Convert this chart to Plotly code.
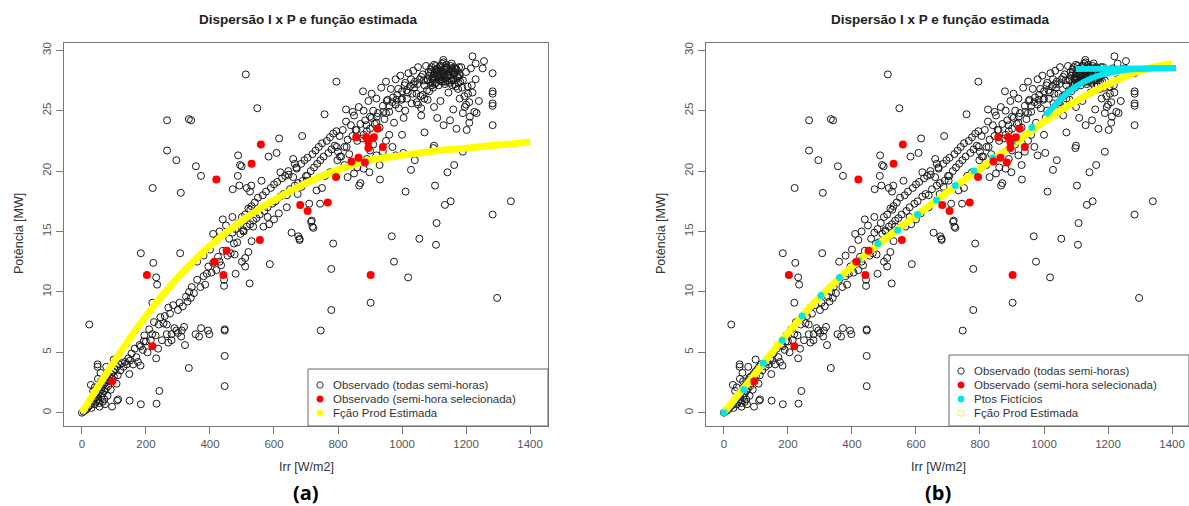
import plotly.graph_objects as go

W, H = 1189, 506

# ---- observed half-hour data (Irr [W/m2], Potência [MW]) ----
obs_irr = [
    0, 5, 10, 15, 20, 25, 30, 30, 35, 40, 40, 45, 45, 50, 50, 55, 55, 60, 60, 62,
    65, 65, 68, 70, 70, 72, 75, 78, 80, 80, 82, 85, 88, 90, 92, 95, 98, 100, 105, 108,
    110, 112, 115, 120, 125, 130, 135, 140, 145, 150, 28, 23, 49, 49, 76, 99, 94, 113, 110, 149,
    148, 183, 184, 233, 242, 55, 72, 60, 35, 40, 50, 58,
    155, 160, 165, 170, 175, 180, 190, 195, 200, 205, 210, 215, 220, 225, 230, 240, 245, 250, 255, 259,
    265, 270, 275, 280, 285, 289, 295, 300, 305, 310, 315, 319, 322, 325, 330, 335, 340, 343, 350, 355,
    360, 366, 370, 372, 380, 385, 390, 394, 395, 398, 405, 410, 420, 425, 430, 435, 440, 444, 444, 446,
    446, 446, 446, 334, 232, 238, 184, 193, 184, 307, 223, 232, 235, 220, 265, 280, 300, 312, 270,
    477, 510, 510, 524, 587, 455, 460, 465, 470, 475, 480, 485, 490, 495, 500, 505, 510, 515, 520, 525,
    530, 535, 540, 545, 550, 555, 565, 570, 575, 580, 585, 590, 595, 600, 605, 610, 615, 620, 625,
    630, 635, 640, 645, 650, 655, 660, 665, 670, 675, 680, 680, 685, 690, 695, 700, 705, 710, 715, 716,
    720, 723, 725, 730, 735, 740, 745, 750, 755, 760, 765, 770, 775, 780, 785, 785, 790, 795, 798,
    512, 795, 878, 548, 266, 334, 341, 266, 295, 356, 372, 221, 309, 616, 688, 758, 825, 846, 488, 499,
    487, 471, 492, 529, 525, 561, 583, 608, 526, 660, 665, 671, 646, 674, 704, 733, 744, 702, 620, 640,
    567, 535, 504, 600, 580, 430, 420, 410, 450, 440, 470, 400, 380, 360, 480, 500, 520, 530, 494, 515,
    718, 720, 676, 750, 775, 686,
    779, 975, 1019, 902, 779, 746, 1297,
    800, 805, 810, 815, 820, 825, 830, 835, 840, 845, 850, 855, 860, 865, 870, 875, 880, 885, 890, 895,
    900, 905, 910, 915, 920, 925, 930, 935, 940, 945, 950, 955, 960, 965, 970, 975, 980, 985, 990, 995,
    1000, 1005, 1010, 1015, 1020, 1025, 1030, 1035, 1040, 1045, 1050, 1055, 1060, 1065, 1070, 1075, 1080, 1085, 1090, 1095,
    1100, 1100, 1105, 1110, 1110, 1115, 1120, 1120, 1125, 1130, 1130, 1135, 1140, 1140, 1145, 1150, 1150, 1155, 1160, 1165,
    1170, 1175, 1180, 1185, 1190, 1195, 1200, 1205, 1210, 1215, 1220, 1230, 1240,
    1085, 1090, 1095, 1100, 1105, 1110, 1115, 1120, 1125, 1130, 1135, 1140, 1145, 1150, 1155, 1160, 1165, 1170, 1175, 1180,
    1088, 1098, 1108, 1118, 1128, 1138, 1148, 1158, 1168, 1178, 1092, 1102, 1112, 1122, 1132, 1142, 1152, 1162, 1172, 1182,
    1080, 1094, 1106, 1114, 1126, 1134, 1146, 1154, 1166, 1174, 1083, 1097, 1103, 1117, 1123, 1137, 1143, 1157, 1163, 1177,
    960, 972, 988, 998, 1008, 1018, 1028, 1038, 1048, 1058, 1068, 1078, 1188, 1196, 1206, 1218, 1226, 1046, 1064, 1032,
    880, 900, 920, 950, 980, 1000, 1010, 1050, 1060, 1080, 1100, 1110, 1120, 1130, 1150, 1160, 1170, 1180, 1190, 1200, 1210,
    1220, 1256, 1283, 1283, 1283, 1283, 1283, 1283, 1340, 1283, 1233, 1202, 1212, 1103, 1134, 1152, 1108, 1106, 1054, 968,
    1011, 1028, 1142, 1163, 1190, 1098, 1100, 1004, 980, 1040, 1000, 1070, 1129, 1252, 1230, 1060, 1070, 952, 983, 1014,
    1035, 931, 898, 866,
    820, 830, 850, 860, 870, 880, 890, 900, 910, 920, 930, 940, 950, 960, 970, 827, 858, 889, 921, 942, 905, 796, 806,
]
obs_pot = [
    0.0, 0.1, 0.2, 0.3, 0.5, 0.6, 0.8, 0.4, 1.0, 0.7, 1.2, 1.3, 0.9, 1.5, 1.1, 1.7, 0.8, 1.9, 1.3, 2.1,
    0.9, 1.6, 2.3, 1.8, 1.1, 2.5, 2.0, 2.7, 1.4, 2.9, 2.2, 3.0, 2.6, 1.9, 3.2, 2.8, 3.4, 3.0, 3.6, 2.4,
    3.8, 3.1, 4.0, 3.5, 4.1, 3.8, 4.2, 4.0, 4.5, 4.3, 2.3, 7.3, 4.0, 3.8, 3.8, 4.4, 0.5, 1.1, 1.0, 1.0,
    3.2, 3.9, 0.7, 0.75, 1.8, 0.5, 0.7, 2.6, 1.8, 2.1, 2.8, 3.3,
    4.9, 4.0, 5.3, 4.6, 4.2, 5.6, 5.2, 6.4, 5.9, 5.0, 6.9, 6.0, 6.5, 7.5, 6.4, 7.3, 7.9, 6.0, 7.4, 8.0,
    7.3, 8.7, 8.2, 6.5, 8.9, 7.0, 6.8, 8.5, 9.1, 6.3, 8.8, 7.1, 5.6, 9.6, 9.2, 10.0, 9.5, 10.4, 9.9, 6.5,
    11.0, 6.3, 10.4, 7.0, 11.3, 10.6, 11.5, 6.8, 12.1, 6.5, 11.6, 12.4, 11.8, 12.9, 12.5, 12.2, 13.4, 11.0, 10.5, 6.8,
    6.9, 4.7, 2.2, 3.7, 4.5, 5.3, 5.5, 5.9, 13.2, 13.2, 12.4, 11.2, 10.6, 9.1, 6.5, 6.0, 6.6, 6.8, 5.8,
    13.1, 12.8, 12.1, 10.7, 12.3, 13.0, 14.4, 13.2, 14.9, 14.0, 15.2, 14.1, 15.7, 14.8, 16.2, 15.0, 16.4, 15.4, 16.9, 15.6,
    17.1, 15.9, 17.4, 16.1, 17.8, 16.4, 18.0, 16.7, 18.3, 17.0, 15.6, 18.6, 17.3, 18.9, 17.5, 19.1, 16.5, 17.9, 19.4,
    18.1, 19.6, 18.0, 20.0, 18.5, 14.9, 19.5, 18.8, 20.3, 19.0, 14.3, 14.4, 20.6, 19.2, 20.9, 19.6, 21.1, 17.3, 20.0, 15.8,
    21.4, 15.3, 20.3, 21.7, 20.6, 22.0, 20.9, 22.3, 21.2, 19.6, 22.5, 21.5, 22.8, 21.8, 14.0, 23.1, 22.1, 23.3, 20.9,
    28.0, 27.4, 26.6, 25.2, 24.2, 24.3, 24.2, 21.7, 20.9, 20.4, 19.6, 18.6, 18.2, 22.7, 22.9, 24.7, 25.1, 24.9, 21.3, 20.4,
    19.6, 18.5, 18.8, 18.8, 18.3, 19.2, 21.2, 21.5, 16.8, 21.0, 20.6, 20.2, 19.7, 18.1, 19.6, 18.4, 17.3, 19.2, 19.9, 17.0,
    15.4, 15.4, 15.1, 16.0, 16.2, 15.0, 14.3, 14.8, 15.5, 16.0, 16.2, 13.5, 13.0, 12.5, 11.5, 12.5, 13.3, 14.2, 20.5, 18.6,
    15.9, 15.4, 14.6, 18.6, 19.9, 18.7,
    11.9, 12.5, 11.2, 9.1, 8.5, 6.8, 9.5,
    21.6, 22.9, 21.2, 23.4, 22.0, 24.1, 22.6, 21.4, 23.8, 22.9, 24.6, 23.4, 22.5, 25.3, 23.9, 22.7, 25.0, 24.2, 23.3, 25.8,
    24.5, 26.4, 25.0, 23.9, 26.0, 24.8, 23.6, 26.9, 25.4, 24.3, 27.4, 25.9, 24.9, 26.8, 25.7, 24.0, 27.6, 26.3, 25.2, 27.9,
    26.6, 24.4, 27.3, 26.0, 28.1, 27.0, 25.6, 28.3, 27.4, 26.4, 28.6, 27.6, 25.2, 28.0, 27.1, 28.7, 27.5, 26.6, 28.2, 27.3,
    28.8, 28.0, 27.3, 28.5, 27.9, 27.1, 28.7, 28.2, 27.6, 29.0, 28.1, 27.4, 28.5, 27.8, 26.5, 28.3, 27.7, 28.9, 28.0, 27.2,
    28.4, 26.8, 27.9, 28.6, 27.5, 26.2, 28.2, 27.0, 25.7, 28.5, 26.5, 27.6, 25.8,
    27.9, 28.4, 27.6, 28.1, 28.7, 27.8, 28.3, 27.5, 28.9, 28.0, 27.7, 28.6, 28.2, 27.9, 28.5, 27.6, 28.1, 28.4, 27.8, 28.0,
    27.3, 27.7, 28.2, 28.6, 27.4, 28.8, 27.3, 28.3, 27.0, 28.6, 28.6, 27.2, 28.0, 27.8, 28.4, 27.5, 28.7, 28.2, 27.9, 27.4,
    27.6, 27.1, 28.4, 27.7, 28.3, 27.2, 28.0, 27.5, 28.5, 27.7, 28.2, 26.9, 27.8, 28.1, 27.4, 28.4, 27.9, 27.1, 28.6, 27.3,
    25.4, 26.1, 26.8, 25.9, 27.1, 26.5, 27.6, 26.9, 27.2, 26.2, 27.5, 26.7, 26.9, 25.3, 26.4, 27.1, 24.9, 25.7, 26.3, 26.4,
    23.0, 23.5, 24.0, 24.8, 25.5, 26.0, 25.0, 25.5, 24.6, 25.9, 25.3, 24.4, 25.8, 23.8, 24.2, 25.1, 23.5, 26.0, 24.8, 25.5, 24.0,
    29.5, 29.1, 28.1, 26.6, 26.4, 25.6, 25.4, 23.8, 17.5, 16.4, 24.8, 23.4, 24.5, 18.8, 17.2, 17.5, 15.7, 13.9, 14.4, 14.6,
    18.3, 20.1, 19.9, 20.5, 21.6, 21.9, 22.1, 21.5, 21.3, 20.9, 23.0, 23.2, 29.2, 28.5, 28.9, 27.8, 26.0, 25.8, 25.9, 26.7,
    27.2, 19.3, 19.9, 18.8,
    20.5, 19.5, 19.8, 20.3, 19.0, 20.2, 21.0, 21.7, 22.2, 21.3, 20.5, 21.6, 22.5, 23.0, 22.0, 22.0, 23.4, 23.8, 24.5, 24.9, 24.4, 22.0, 21.2,
]

# ---- selected half-hours ----
sel_irr = [420, 530, 559, 682, 705, 768, 794, 857, 888, 912, 924, 895, 895, 940, 864, 842, 884,
           556, 452, 414, 442, 203, 220, 95, 902]
sel_pot = [19.3, 20.6, 22.2, 17.2, 16.7, 17.4, 19.5, 22.8, 22.8, 22.8, 23.5, 22.4, 21.9, 22.0, 21.1, 20.8, 20.7,
           14.3, 13.4, 12.5, 11.4, 11.4, 5.5, 2.6, 11.4]

# ---- estimated production function, panel (a) ----
fa_irr = [0, 100, 200, 300, 400, 500, 600, 700, 800, 900, 1000, 1100, 1200, 1300, 1400]
fa_pot = [0, 4.2, 8.0, 11.2, 13.8, 15.9, 17.6, 19.0, 20.1, 20.9, 21.3, 21.65, 21.9, 22.15, 22.4]

# ---- estimated production function, panel (b) ----
fb_irr = [0, 100, 200, 300, 400, 500, 600, 700, 800, 900, 1000, 1100, 1200, 1300, 1400]
fb_pot = [0, 3.3, 6.6, 9.6, 12.1, 14.3, 16.3, 18.3, 20.2, 22.1, 24.1, 25.8, 27.2, 28.3, 28.9]

# ---- fictitious points, panel (b) ----
fic_irr = [0, 62, 123, 182, 244, 303, 361, 420, 481, 543, 605, 664, 723, 781, 840, 902, 962]
fic_pot = [0, 1.9, 4.1, 6.0, 8.0, 9.7, 11.2, 12.6, 14.0, 15.1, 16.4, 17.6, 18.8, 20.0, 21.1, 22.4, 23.6]
fic_curve_irr = [1005, 1050, 1100, 1150, 1200, 1250, 1300, 1350, 1412]
fic_curve_pot = [24.6, 25.9, 27.0, 27.7, 28.1, 28.35, 28.45, 28.5, 28.5]
fic_flat_irr = [1099, 1412]
fic_flat_pot = [28.45, 28.5]

x_ticks = [0, 200, 400, 600, 800, 1000, 1200, 1400]
y_ticks = [0, 5, 10, 15, 20, 25, 30]

TITLE = "Dispersão I x P e função estimada"
XLAB = "Irr [W/m2]"
YLAB = "Potência [MW]"
LEG_A = ["Observado (todas semi-horas)", "Observado (semi-hora selecionada)", "Fção Prod Estimada"]
LEG_B = ["Observado (todas semi-horas)", "Observado (semi-hora selecionada)", "Ptos Fictícios", "Fção Prod Estimada"]

FONT = "Liberation Sans, Arial, sans-serif"
YELLOW = "#ffff00"
CYAN = "#00e5ee"
RED = "#ff0000"


def px(xp):
    return xp / W


def py(yp):
    return 1 - yp / H


fig = go.Figure()

open_marker = dict(symbol="circle-open", size=7, color="#1a1a1a", line=dict(width=1, color="#1a1a1a"))
red_marker = dict(symbol="circle", size=8, color=RED)

for xa, ya, fx, fy in [("x", "y", fa_irr, fa_pot), ("x2", "y2", fb_irr, fb_pot)]:
    fig.add_trace(go.Scatter(x=obs_irr, y=obs_pot, mode="markers", marker=open_marker,
                             xaxis=xa, yaxis=ya, showlegend=False))
    fig.add_trace(go.Scatter(x=fx, y=fy, mode="lines", line=dict(color=YELLOW, width=7, shape="spline"),
                             xaxis=xa, yaxis=ya, showlegend=False))
    if xa == "x2":
        fig.add_trace(go.Scatter(x=fic_curve_irr, y=fic_curve_pot, mode="lines",
                                 line=dict(color=CYAN, width=6, shape="spline"),
                                 xaxis=xa, yaxis=ya, showlegend=False))
        fig.add_trace(go.Scatter(x=fic_flat_irr, y=fic_flat_pot, mode="lines",
                                 line=dict(color=CYAN, width=6),
                                 xaxis=xa, yaxis=ya, showlegend=False))
        fig.add_trace(go.Scatter(x=fic_irr, y=fic_pot, mode="markers",
                                 marker=dict(symbol="circle", size=7, color=CYAN),
                                 xaxis=xa, yaxis=ya, showlegend=False))
    fig.add_trace(go.Scatter(x=sel_irr, y=sel_pot, mode="markers", marker=red_marker,
                             xaxis=xa, yaxis=ya, showlegend=False))

axis_common = dict(showgrid=False, zeroline=False, showline=True, mirror=True, linecolor="#777",
                   linewidth=1, ticks="outside", ticklen=7, tickcolor="#777", tickwidth=1,
                   tickfont=dict(family=FONT, size=11.5, color="#555"))

y_dom = [py(426), py(43)]
fig.update_layout(
    width=W, height=H, autosize=False,
    margin=dict(l=0, r=0, t=0, b=0),
    paper_bgcolor="white", plot_bgcolor="white",
    xaxis=dict(domain=[px(64), px(548)], range=[-56, 1456], tickvals=x_ticks, anchor="y", **axis_common),
    yaxis=dict(domain=y_dom, range=[-1.1, 30.6], tickvals=y_ticks, tickangle=-90, anchor="x", **axis_common),
    xaxis2=dict(domain=[px(706), 1.0], range=[-56, 1453], tickvals=x_ticks, anchor="y2", **axis_common),
    yaxis2=dict(domain=y_dom, range=[-1.1, 30.6], tickvals=y_ticks, tickangle=-90, anchor="x2", **axis_common),
)

annotations = []
shapes = []


def centered(xp, yp, text, font, angle=0):
    return dict(x=px(xp), y=py(yp), xref="paper", yref="paper", text=text, textangle=angle,
                xanchor="center", yanchor="middle", showarrow=False, font=font)


for cx, lab in [(306, "(a)"), (938, "(b)")]:
    annotations.append(centered(cx + 2, 20, "<b>" + TITLE + "</b>", dict(family=FONT, size=13.5, color="#222")))
    annotations.append(centered(cx, 467, XLAB, dict(family=FONT, size=12.5, color="#333")))
    annotations.append(centered(cx, 492, "<b>" + lab + "</b>",
                                dict(family="Open Sans, sans-serif", size=20, color="#000")))

for xl in [19, 661]:
    annotations.append(centered(xl, 234, YLAB, dict(family=FONT, size=12.5, color="#333"), angle=-90))


def legend_box(x0, y0, x1, y1, rows, sym_x, text_x, row_y):
    shapes.append(dict(type="rect", xref="paper", yref="paper", x0=px(x0), x1=px(x1), y0=py(y1), y1=py(y0),
                       line=dict(color="#666", width=1), fillcolor="white", layer="above"))
    for (label, kind, col), ry in zip(rows, row_y):
        r = 3.2
        if kind == "open":
            shapes.append(dict(type="circle", xref="paper", yref="paper", x0=px(sym_x - r), x1=px(sym_x + r),
                               y0=py(ry + r), y1=py(ry - r), line=dict(color=col, width=1),
                               fillcolor="rgba(0,0,0,0)", layer="above"))
        else:
            shapes.append(dict(type="circle", xref="paper", yref="paper", x0=px(sym_x - r), x1=px(sym_x + r),
                               y0=py(ry + r), y1=py(ry - r), line=dict(color=col, width=0.5),
                               fillcolor=col, layer="above"))
        annotations.append(dict(x=px(text_x), y=py(ry), xref="paper", yref="paper", text=label,
                                xanchor="left", yanchor="middle", showarrow=False,
                                font=dict(family=FONT, size=11.5, color="#333")))


legend_box(308, 369, 548, 426,
           [(LEG_A[0], "open", "#333"), (LEG_A[1], "fill", RED), (LEG_A[2], "fill", YELLOW)],
           320, 331, [385, 399, 413])
legend_box(949, 355, 1189, 426,
           [(LEG_B[0], "open", "#333"), (LEG_B[1], "fill", RED), (LEG_B[2], "fill", CYAN),
            (LEG_B[3], "open", "#f0f060")],
           961, 972, [371, 385, 399, 413])

fig.update_layout(annotations=annotations, shapes=shapes)

fig.write_html("out.html")
